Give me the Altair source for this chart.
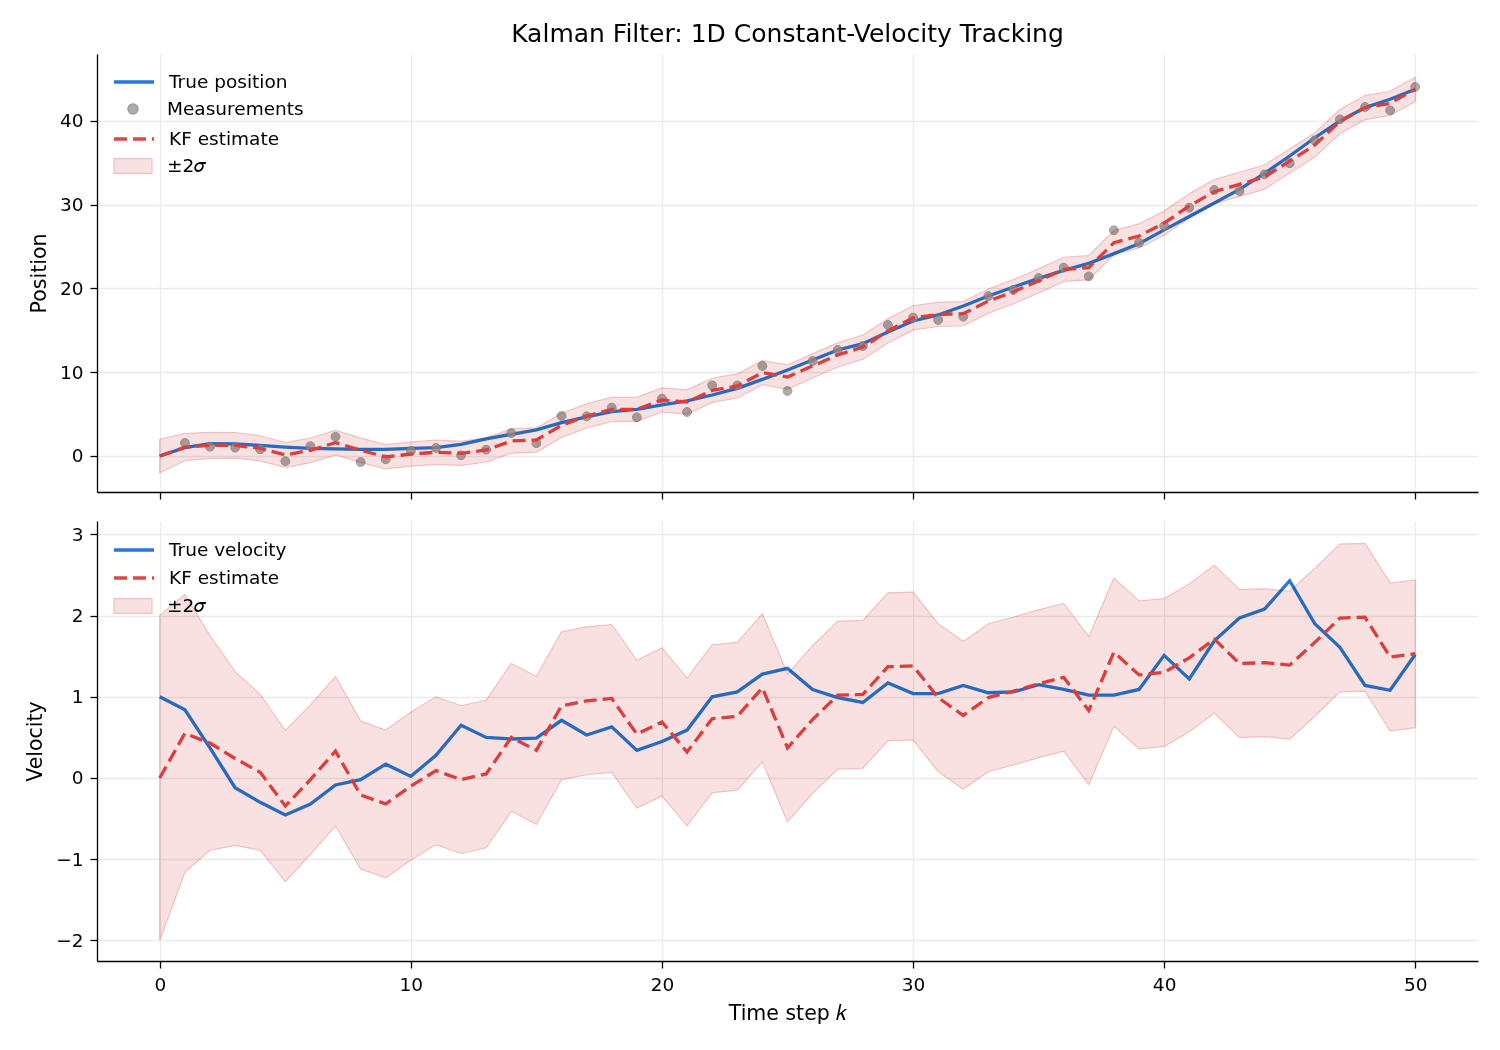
import altair as alt
import pandas as pd

# ---- data -------------------------------------------------------------
steps = list(range(51))

true_pos = [0.0, 1.0, 1.47, 1.43, 1.27, 1.07, 0.92, 0.84, 0.78, 0.80,
            0.92, 1.0, 1.39, 2.05, 2.59, 3.12, 3.98, 4.66, 5.29, 5.57,
            6.09, 6.57, 7.28, 8.08, 9.15, 10.27, 11.46, 12.66, 13.41, 14.81,
            16.12, 16.84, 17.91, 19.1, 20.18, 21.21, 22.17, 23.0, 24.16, 25.35,
            27.0, 28.6, 30.2, 31.84, 33.75, 35.82, 38.0, 40.0, 41.6, 42.59, 43.78]

measured_pos = [None, 1.55, 1.11, 1.0, 0.80, -0.62, 1.17, 2.29, -0.72, -0.40,
                0.62, 0.96, 0.08, 0.75, 2.73, 1.53, 4.78, 4.74, 5.77, 4.62,
                6.85, 5.25, 8.44, 8.44, 10.75, 7.76, 11.34, 12.66, 13.13, 15.64,
                16.52, 16.24, 16.64, 19.1, 19.82, 21.25, 22.49, 21.45, 26.95, 25.47,
                27.46, 29.65, 31.76, 31.64, 33.63, 34.95, 37.69, 40.2, 41.67, 41.27, 44.06]

kf_pos = [0.0, 1.05, 1.27, 1.27, 0.92, 0.12, 0.68, 1.59, 0.68, -0.1,
          0.22, 0.45, 0.31, 0.72, 1.79, 1.91, 3.66, 4.78, 5.57, 5.57,
          6.69, 6.45, 7.84, 8.36, 9.95, 9.43, 10.75, 12.06, 13.0, 14.93,
          16.5, 16.9, 16.99, 18.5, 19.62, 20.9, 22.29, 22.49, 25.47, 26.27,
          27.8, 29.86, 31.56, 32.44, 33.31, 35.22, 37.13, 39.94, 41.6, 42.11, 43.78]

pos_2sigma = [2.0, 1.62, 1.56, 1.52, 1.50, 1.48, 1.47, 1.46, 1.45, 1.45,
              1.44, 1.44, 1.44, 1.44, 1.44, 1.44, 1.44, 1.44, 1.44, 1.44,
              1.44, 1.44, 1.44, 1.44, 1.44, 1.44, 1.44, 1.44, 1.44, 1.44,
              1.44, 1.44, 1.44, 1.44, 1.44, 1.44, 1.44, 1.44, 1.44, 1.44,
              1.44, 1.44, 1.44, 1.44, 1.44, 1.44, 1.44, 1.44, 1.44, 1.44, 1.44]

true_vel = [1.0, 0.84, 0.37, -0.12, -0.30, -0.455, -0.32, -0.086, -0.02, 0.17,
            0.02, 0.28, 0.65, 0.50, 0.48, 0.49, 0.71, 0.53, 0.63, 0.34,
            0.45, 0.59, 1.0, 1.06, 1.28, 1.35, 1.09, 0.99, 0.93, 1.17,
            1.04, 1.04, 1.14, 1.05, 1.06, 1.15, 1.09, 1.02, 1.02, 1.09,
            1.51, 1.22, 1.69, 1.97, 2.08, 2.43, 1.90, 1.61, 1.14, 1.08, 1.52]

kf_vel = [0.0, 0.55, 0.43, 0.24, 0.07, -0.345, -0.02, 0.33, -0.21, -0.32,
          -0.10, 0.09, -0.02, 0.05, 0.50, 0.34, 0.89, 0.95, 0.98, 0.54,
          0.69, 0.32, 0.73, 0.76, 1.11, 0.37, 0.72, 1.02, 1.03, 1.37,
          1.38, 0.99, 0.77, 0.99, 1.07, 1.16, 1.24, 0.83, 1.55, 1.27,
          1.30, 1.48, 1.71, 1.41, 1.42, 1.39, 1.67, 1.97, 1.98, 1.49, 1.53]

vel_2sigma = [2.0, 1.71, 1.32, 1.07, 0.96, 0.93, 0.92, 0.92, 0.91, 0.91,
              0.91, 0.91, 0.91, 0.91, 0.91, 0.91, 0.91, 0.91, 0.91, 0.91,
              0.91, 0.91, 0.91, 0.91, 0.91, 0.91, 0.91, 0.91, 0.91, 0.91,
              0.91, 0.91, 0.91, 0.91, 0.91, 0.91, 0.91, 0.91, 0.91, 0.91,
              0.91, 0.91, 0.91, 0.91, 0.91, 0.91, 0.91, 0.91, 0.91, 0.91, 0.91]

pos_df = pd.DataFrame({
    "k": steps, "truth": true_pos, "meas": measured_pos, "kf": kf_pos,
    "lo": [m - s for m, s in zip(kf_pos, pos_2sigma)],
    "hi": [m + s for m, s in zip(kf_pos, pos_2sigma)],
})
vel_df = pd.DataFrame({
    "k": steps, "truth": true_vel, "kf": kf_vel,
    "lo": [m - s for m, s in zip(kf_vel, vel_2sigma)],
    "hi": [m + s for m, s in zip(kf_vel, vel_2sigma)],
})

# ---- style ------------------------------------------------------------
BLUE = "#2878d8"
RED = "#e04646"
GRAY = "#9a9794"
BAND_FILL = "#f9e1e1"
BAND_EDGE = "#f0c0c0"
FONT = "DejaVu Sans"
W = 1381
DASH = [13, 6]
LW = 3.3

CIRCLE_PATH = "M-0.25,0a0.25,0.25 0 1,0 0.5,0a0.25,0.25 0 1,0 -0.5,0Z"
RECT_PATH = "M-0.95,-0.37H0.95V0.37H-0.95Z"


def legend(y):
    return dict(orient="none", legendX=15, legendY=y, title=None, padding=0,
                symbolSize=1600, labelFont=FONT, labelFontSize=18.5,
                labelColor="black", labelOffset=13)


x_scale = alt.Scale(domain=[-2.5, 52.5], nice=False, zero=False)
x_ticks = [0, 10, 20, 30, 40, 50]


def x_enc(show_labels):
    return alt.X("k:Q", scale=x_scale,
                 axis=alt.Axis(values=x_ticks, labels=show_labels,
                               title="Time step 𝑘" if show_labels else None,
                               titlePadding=10, format="d"))


def panel(df, ydomain, yticks, ytitle, true_label, with_meas, legend_ys, height):
    base = alt.Chart(df)
    y = alt.Y("truth:Q", scale=alt.Scale(domain=ydomain, nice=False, zero=False),
              axis=alt.Axis(values=yticks, title=ytitle, format="d"))
    ly = iter(legend_ys)

    truth = base.mark_line(strokeWidth=LW).transform_calculate(
        series=f"'{true_label}'"
    ).encode(
        x=x_enc(not with_meas), y=y,
        color=alt.Color("series:N",
                        scale=alt.Scale(domain=[true_label], range=[BLUE]),
                        legend=alt.Legend(symbolType="stroke", symbolStrokeWidth=LW,
                                          **legend(next(ly)))),
    )
    layers = [truth]

    if with_meas:
        meas = base.mark_circle(size=78, opacity=0.8, stroke="#858585",
                                strokeWidth=1).transform_filter(
            "isValid(datum.meas)"
        ).transform_calculate(series="'Measurements'").encode(
            x="k:Q", y="meas:Q",
            fill=alt.Fill("series:N",
                          scale=alt.Scale(domain=["Measurements"], range=[GRAY]),
                          legend=alt.Legend(symbolType=CIRCLE_PATH,
                                            **legend(next(ly)))),
        )
        layers.append(meas)

    kf = base.mark_line(strokeWidth=LW, strokeDash=DASH).transform_calculate(
        series="'KF estimate'"
    ).encode(
        x="k:Q", y="kf:Q",
        stroke=alt.Stroke("series:N",
                          scale=alt.Scale(domain=["KF estimate"], range=[RED]),
                          legend=alt.Legend(symbolType="stroke", symbolStrokeWidth=LW,
                                            symbolDash=DASH, **legend(next(ly)))),
    )
    layers.append(kf)

    # translucent ±2σ band: multiply blending keeps grid and lines visible beneath
    band = base.mark_area(fill=BAND_FILL, stroke=BAND_EDGE, strokeWidth=1.2,
                          blend="multiply").transform_calculate(
        series="'±2𝜎'"
    ).encode(
        x="k:Q", y="lo:Q", y2="hi:Q",
        opacity=alt.Opacity("series:N",
                            scale=alt.Scale(domain=["±2𝜎"], range=[1]),
                            legend=alt.Legend(symbolType=RECT_PATH,
                                              symbolStrokeWidth=1.2,
                                              **legend(next(ly)))),
    )
    layers.append(band)

    return alt.layer(*layers).properties(width=W, height=height)


top = panel(pos_df, [-4.3, 48.0], [0, 10, 20, 30, 40], "Position",
            "True position", True, [6, 34, 63, 91], 438).properties(
    title=alt.Title("Kalman Filter: 1D Constant-Velocity Tracking",
                    frame="group", anchor="middle", fontSize=25,
                    fontWeight="normal", font=FONT, color="black", offset=7)
)

bottom = panel(vel_df, [-2.254, 3.165], [-2, -1, 0, 1, 2, 3], "Velocity",
               "True velocity", False, [7, 35, 64], 440)

chart = alt.vconcat(top, bottom, spacing=21).resolve_scale(
    color="independent", stroke="independent", opacity="independent",
    fill="independent", y="independent"
).resolve_legend(
    color="independent", stroke="independent", opacity="independent",
    fill="independent"
).properties(
    padding={"left": 25, "top": 22, "right": 22, "bottom": 10},
    background="white",
).configure_view(
    stroke=None
).configure_axis(
    labelFont=FONT, titleFont=FONT, labelFontSize=18.5, titleFontSize=20.5,
    labelColor="black", titleColor="black", titleFontWeight="normal",
    domainColor="black", domainWidth=1.3, tickColor="black", tickWidth=1.3,
    tickSize=7, labelPadding=7, titlePadding=10,
    grid=True, gridColor="#ebebeb", gridWidth=1.3,
)

chart.save("out.html", embed_options={"renderer": "svg", "actions": False})
